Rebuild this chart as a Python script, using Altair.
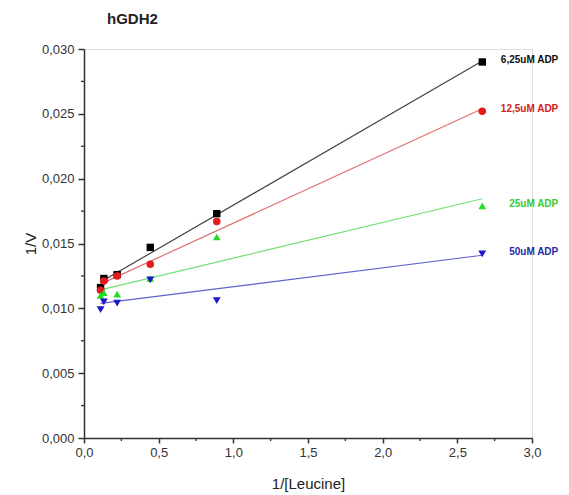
import altair as alt
import pandas as pd

# ---- data ----
inv_leucine = [0.111, 0.133, 0.222, 0.444, 0.889, 2.667]
series_names = ["6,25uM ADP", "12,5uM ADP", "25uM ADP", "50uM ADP"]
inv_v_625 = [0.0116, 0.0123, 0.0126, 0.0147, 0.0173, 0.0290]
inv_v_125 = [0.0114, 0.0121, 0.0125, 0.0134, 0.0167, 0.0252]
inv_v_25 = [0.0110, 0.0112, 0.0111, 0.0123, 0.0155, 0.0179]
inv_v_50 = [0.0099, 0.0105, 0.0104, 0.0122, 0.0106, 0.0142]

x_major = [0.0, 0.5, 1.0, 1.5, 2.0, 2.5, 3.0]
x_minor = [0.25, 0.75, 1.25, 1.75, 2.25, 2.75]
y_major = [0.0, 0.005, 0.010, 0.015, 0.020, 0.025, 0.030]
y_minor = [0.0025, 0.0075, 0.0125, 0.0175, 0.0225, 0.0275]

point_colors = ["#000000", "#e41a1c", "#22dd22", "#1a1acc"]
line_colors = ["#444444", "#e07070", "#70e070", "#6060d0"]
label_colors = ["#111111", "#d42020", "#33cc33", "#2a2aa8"]
shapes = ["square", "circle", "triangle-up", "triangle-down"]
marker_sizes = [55, 62, 115, 115]

rows = []
for name, vals in zip(series_names, [inv_v_625, inv_v_125, inv_v_25, inv_v_50]):
    for i, (x, y) in enumerate(zip(inv_leucine, vals)):
        rows.append({"series": name, "x": x, "y": y, "last": i == len(vals) - 1})
df = pd.DataFrame(rows)

FONT = "Liberation Sans"
W, H = 448, 389

xscale = alt.Scale(domain=[0, 3.0], nice=False, zero=False)
yscale = alt.Scale(domain=[0, 0.030], nice=False, zero=False)

x_enc = alt.X(
    "x:Q", scale=xscale, title="1/[Leucine]",
    axis=alt.Axis(values=x_major, labelExpr="replace(format(datum.value, '.1f'), '.', ',')",
                  grid=False, domainColor="#333333", domainWidth=1.5, tickColor="#333333",
                  tickWidth=1.5, tickSize=5, labelFont=FONT, labelFontSize=13, labelColor="#333333",
                  labelPadding=3, labelFlush=False, labelOverlap=False,
                  titleFont=FONT, titleFontSize=15, titleFontWeight="normal",
                  titleColor="#222222", titleY=45, titleBaseline="middle"),
)
y_enc = alt.Y(
    "y:Q", scale=yscale, title="1/V",
    axis=alt.Axis(values=y_major, labelExpr="replace(format(datum.value, '.3f'), '.', ',')",
                  grid=False, domainColor="#333333", domainWidth=1.5, tickColor="#333333",
                  tickWidth=1.5, tickSize=6, labelFont=FONT, labelFontSize=13, labelColor="#333333",
                  labelPadding=4, labelFlush=False, labelOverlap=False,
                  titleFont=FONT, titleFontSize=15, titleFontWeight="normal",
                  titleColor="#222222", titleX=-46),
)

color_line = alt.Color("series:N", scale=alt.Scale(domain=series_names, range=line_colors), legend=None)
color_pt = alt.Color("series:N", scale=alt.Scale(domain=series_names, range=point_colors), legend=None)
color_lbl = alt.Color("series:N", scale=alt.Scale(domain=series_names, range=label_colors), legend=None)
shape_enc = alt.Shape("series:N", scale=alt.Scale(domain=series_names, range=shapes), legend=None)
size_enc = alt.Size("series:N", scale=alt.Scale(domain=series_names, range=marker_sizes), legend=None)

base = alt.Chart(df)

lines = base.transform_regression("x", "y", groupby=["series"]).mark_line(strokeWidth=1.2).encode(
    x=x_enc, y=y_enc, color=color_line, detail="series:N"
)

points = base.mark_point(filled=True, opacity=1).encode(
    x="x:Q", y="y:Q", color=color_pt, shape=shape_enc, size=size_enc
)

labels = base.transform_filter("datum.last").mark_text(
    align="right", baseline="middle", dx=76, dy=-2, font=FONT, fontSize=10, fontWeight="bold"
).encode(x="x:Q", y="y:Q", text="series:N", color=color_lbl)

xminor = alt.Chart(pd.DataFrame({"v": x_minor})).mark_rule(color="#333333", strokeWidth=1.3).encode(
    x=alt.X("v:Q", scale=xscale), y=alt.value(H), y2=alt.value(H + 3)
)
yminor = alt.Chart(pd.DataFrame({"v": y_minor})).mark_rule(color="#333333", strokeWidth=1.3).encode(
    y=alt.Y("v:Q", scale=yscale), x=alt.value(-3), x2=alt.value(0)
)

chart = alt.layer(lines, points, labels, xminor, yminor).resolve_scale(
    color="independent", shape="independent", size="independent"
).properties(
    width=W, height=H,
    title=alt.TitleParams("hGDH2", anchor="start", frame="group", dx=23, font=FONT, fontSize=15,
                          fontWeight="bold", color="#222222", offset=16),
    padding={"left": 84, "top": 49, "right": 37, "bottom": 57},
    autosize=alt.AutoSizeParams(type="none"),
).configure_view(stroke=None).configure(background="white")

chart.save("out.html", embed_options={"renderer": "svg", "actions": False})
